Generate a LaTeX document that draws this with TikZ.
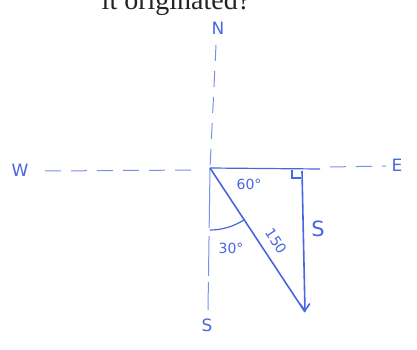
\documentclass[tikz,border=0pt]{standalone}
\usepackage{fontspec}
\setmainfont{Liberation Serif}
\newfontfamily\hand{DejaVu Sans}
\usetikzlibrary{arrows.meta,calc}
\definecolor{pen}{RGB}{72,102,222}
\definecolor{penlight}{RGB}{120,145,230}
\definecolor{ink}{RGB}{35,35,35}
\begin{document}
\begin{tikzpicture}[x=1pt,y=1pt,
  axis/.style={penlight, line width=1pt, dash pattern=on 16pt off 10pt},
  vec/.style={pen, line width=1.6pt},
  lab/.style={pen, font=\hand\fontsize{17}{17}\selectfont, inner sep=0pt},
  small/.style={pen, font=\hand\fontsize{14}{14}\selectfont, inner sep=0pt}]
\useasboundingbox (0,0) rectangle (417,349);
\begin{scope}
\clip (0,0) rectangle (417,349);
\node[ink, anchor=base, font=\fontsize{28}{30}\selectfont, inner sep=0pt] (title) at (176,339) {it originated?};
\end{scope}
% points
\coordinate (O) at (210,181);
\coordinate (Wend) at (45,178);
\coordinate (Wgap) at (200,179);
\coordinate (Hend) at (320,180);
\coordinate (Estart) at (330,182);
\coordinate (Eend) at (386,183);
\coordinate (Ntop) at (216,304);
\coordinate (Sbot) at (208,39);
\coordinate (T) at (302,178);
\coordinate (P) at (305,37);
\coordinate (A0) at (210,119);
% labels
\node[lab] (N) at (218,321) {N};
\node[lab] (S) at (207,24) {S};
\node[lab] (W) at (20,179) {W};
\node[lab] (E) at (397,184) {E};
% axes
\draw[axis] (Wend) -- (Wgap);
\draw[axis] (Estart) -- (Eend);
\draw[axis] (Ntop) -- (O);
\draw[axis, dash pattern=on 60pt off 8pt on 40pt off 6pt] (O) -- (Sbot);
\draw[pen, line width=1.2pt] (O) -- (Hend);
% vectors
\draw[vec] (O) -- (P);
\draw[vec, -{Straight Barb[length=7pt,width=10pt]}] (T) -- (P);
% right angle
\draw[pen, line width=1.2pt] (292,179) -- (292,171) -- (301,171);
% arc
\draw[pen, line width=1.2pt] (A0) arc[start angle=-90, end angle=-56.6, radius=62];
% angle labels
\node[small] (a60) at (249,165) {60°};
\node[small] (a30) at (231,101) {30°};
\node[small, rotate=-56.6] (d150) at (276,108) {150};
\node[pen, inner sep=0pt, font=\hand\fontsize{21}{21}\selectfont] (s) at (318,120) {S};
\end{tikzpicture}
\end{document}
